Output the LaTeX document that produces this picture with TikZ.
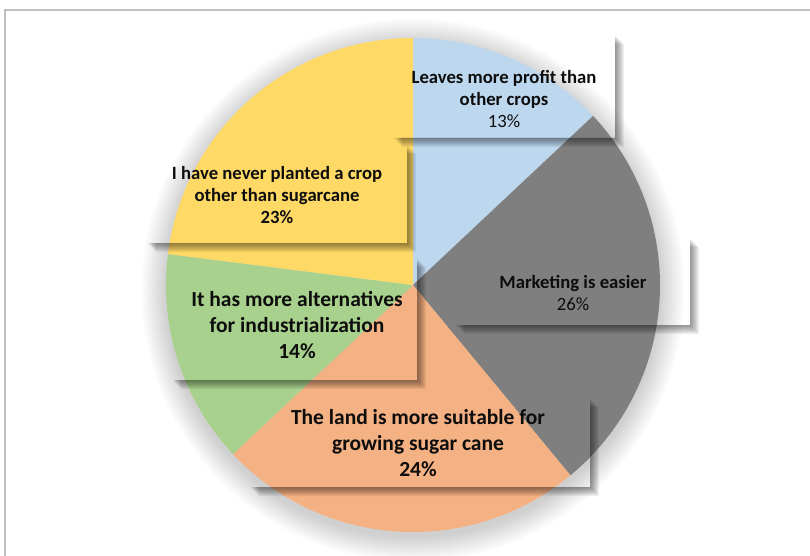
\documentclass[tikz,border=0pt]{standalone}
\usepackage{fontspec}
\setmainfont{Carlito}
\usetikzlibrary{positioning}
\definecolor{sliceBlue}{RGB}{189,215,238}
\definecolor{sliceGray}{RGB}{127,127,127}
\definecolor{sliceOrange}{RGB}{244,177,131}
\definecolor{sliceGreen}{RGB}{169,209,142}
\definecolor{sliceYellow}{RGB}{255,217,102}
\pgfdeclarelayer{bg}
\pgfdeclarelayer{pie}
\pgfsetlayers{bg,pie,main}

\begin{document}
\begin{tikzpicture}[x=1pt, y=-1pt,
   BOX/.style = {rectangle, inner sep=0pt, outer sep=0pt},
   TXT/.style = {align=center, text=black!95,
                 font=\bfseries\fontsize{18.7}{22}\selectfont},
  TXTL/.style = {TXT, font=\bfseries\fontsize{21.5}{26}\selectfont},
    SH/.style = {black, opacity=.055}%box shadow
                    ]
\useasboundingbox (0,0) rectangle (810,556);
\coordinate (C) at (413,285);
% frame
\draw[black!25, line width=1.6pt] (5,556) -- (5,10) -- (810,10);
% label boxes
\node[BOX, minimum width=222pt, minimum height=103pt] (b1) at (504,86.5) {};
\node[BOX, minimum width=235pt, minimum height=87pt]  (b2) at (572.5,281.5) {};
\node[BOX, minimum width=340pt, minimum height=89pt]  (b3) at (420,442.5) {};
\node[BOX, minimum width=245pt, minimum height=122pt] (b4) at (294.5,319) {};
\node[BOX, minimum width=260pt, minimum height=98pt]  (b5) at (277,194) {};
% label texts
\node[TXT]  (t1) at (504,99)    {Leaves more profit than\\ other crops\\ \mdseries 13\%};
\node[TXT]  (t2) at (573,293.5) {Marketing is easier\\ \mdseries 26\%};
\node[TXTL] (t3) at (418,443)   {The land is more suitable for\\ growing sugar cane\\ 24\%};
\node[TXTL] (t4) at (297,325)   {It has more alternatives\\ for industrialization\\ 14\%};
\node[TXT]  (t5) at (277,195)   {I have never planted a crop\\ other than sugarcane\\ 23\%};
% box fill and pie glow
\begin{pgfonlayer}{bg}
\foreach \b in {b1,b2,b3,b4,b5}
  \fill[white] (\b.south west) rectangle (\b.north east);
\foreach \k in {1,...,16}
  \fill[black, opacity=.012] ([yshift=-5pt]C) circle[radius=246pt+\k*1.6pt];
\end{pgfonlayer}
% slices and box shadows
\begin{pgfonlayer}{pie}
\foreach \a/\e/\c in {90/43.2/sliceBlue, 43.2/-50.4/sliceGray,
                      -50.4/-136.8/sliceOrange, -136.8/-187.2/sliceGreen,
                      -187.2/-270/sliceYellow}
  \fill[\c] (C) -- ++(\a:247pt) arc[start angle=\a, end angle=\e, radius=247pt] -- cycle;
\foreach \b in {b1,b2,b3,b4,b5}
  \foreach \d in {1,...,9}
    \fill[SH] ([xshift=\d pt]\b.south west) -- ([shift={(\d pt,-\d pt)}]\b.south west)
          -- ([shift={(\d pt,-\d pt)}]\b.south east) -- ([shift={(\d pt,-\d pt)}]\b.north east)
          -- ([yshift=-\d pt]\b.north east) -- (\b.south east) -- cycle;
\end{pgfonlayer}
\end{tikzpicture}
\end{document}
